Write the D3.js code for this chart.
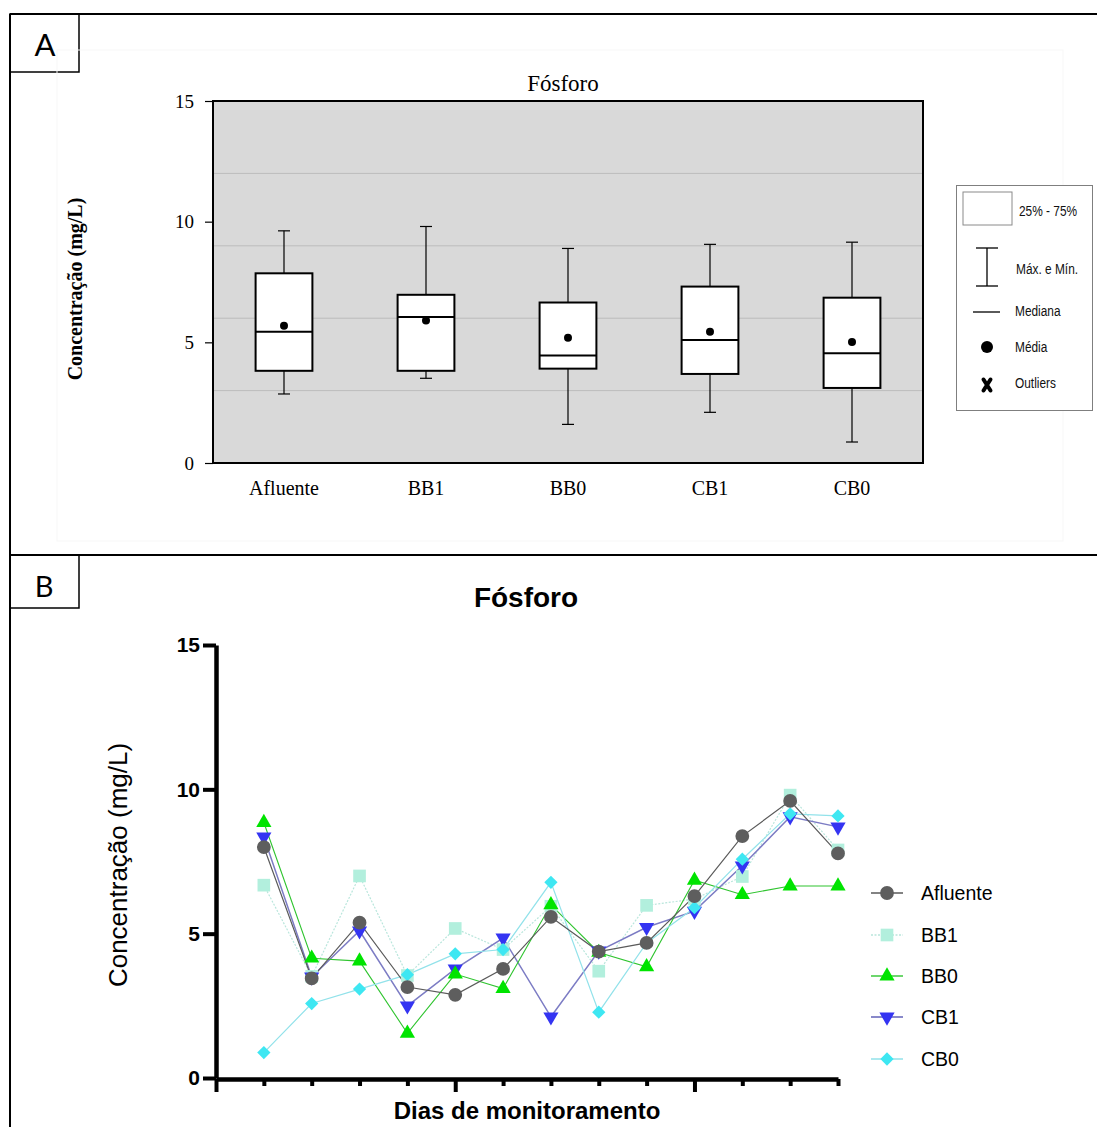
<!DOCTYPE html>
<html>
<head>
<meta charset="utf-8">
<script src="https://cdn.jsdelivr.net/npm/d3@7"></script>
<style>
  body { margin: 0; background: #fff; }
  svg { display: block; }
</style>
</head>
<body>
<svg id="fig" width="1097" height="1127"></svg>
<script>
// ---------- Panel A: box plot summary per treatment ----------
const categories = ["Afluente", "BB1", "BB0", "CB1", "CB0"];
const boxMax    = [9.62, 9.80, 8.89, 9.06, 9.15];
const boxQ3     = [7.86, 6.97, 6.65, 7.31, 6.85];
const boxMedian = [5.44, 6.05, 4.45, 5.10, 4.55];
const boxQ1     = [3.82, 3.82, 3.91, 3.69, 3.11];
const boxMin    = [2.86, 3.51, 1.60, 2.10, 0.87];
const boxMean   = [5.69, 5.90, 5.19, 5.44, 5.01];
const yTicks    = [0, 5, 10, 15];
const gridValues = [3, 6, 9, 12];
const legendA = ["25% - 75%", "Máx. e Mín.", "Mediana", "Média", "Outliers"];

// ---------- Panel B: phosphorus per monitoring day ----------
const days     = [1, 2, 3, 4, 5, 6, 7, 8, 9, 10, 11, 12, 13];
const xTickValues = [0, 1, 2, 3, 4, 5, 6, 7, 8, 9, 10, 11, 12, 13];
const xMajorTicks = [0, 5, 10];
const seriesNames = ["Afluente", "BB1", "BB0", "CB1", "CB0"];
const afluente = [8.00, 3.45, 5.38, 3.15, 2.88, 3.78, 5.58, 4.38, 4.68, 6.30, 8.38, 9.60, 7.78];
const bb1      = [6.68, 3.52, 7.00, 3.55, 5.18, 4.45, 5.95, 3.70, 5.98, 6.20, 6.98, 9.80, 7.90];
const bb0      = [8.85, 4.15, 4.05, 1.55, 3.60, 3.10, 6.00, 4.35, 3.85, 6.85, 6.35, 6.65, 6.65];
const cb1      = [8.35, 3.50, 5.10, 2.50, 3.78, 4.85, 2.12, 4.40, 5.22, 5.78, 7.35, 9.05, 8.70];
const cb0      = [0.88, 2.58, 3.08, 3.58, 4.30, 4.45, 6.78, 2.28, 4.68, 5.90, 7.58, 9.15, 9.08];

const svg = d3.select("#fig");
svg.append("rect").attr("width", 1097).attr("height", 1127).attr("fill", "#fff");

const SERIF = "'Liberation Serif', 'Times New Roman', serif";
const SANS = "'Liberation Sans', Arial, sans-serif";
const PANEL_FONT = "Lato, 'Open Sans', sans-serif";

// ---------- figure frame and panel tags ----------
const frame = svg.append("g").attr("stroke", "#000").attr("stroke-width", 2);
frame.append("line").attr("x1", 10).attr("x2", 1097).attr("y1", 14).attr("y2", 14);
frame.append("line").attr("x1", 10).attr("x2", 10).attr("y1", 14).attr("y2", 1127);
frame.append("line").attr("x1", 10).attr("x2", 1097).attr("y1", 555).attr("y2", 555);
frame.append("rect").attr("x", 10).attr("y", 14).attr("width", 69).attr("height", 58)
  .attr("fill", "none").attr("stroke-width", 1.5);
frame.append("rect").attr("x", 10).attr("y", 555).attr("width", 69).attr("height", 53)
  .attr("fill", "none").attr("stroke-width", 1.5);
svg.append("text").attr("x", 45).attr("y", 56).attr("text-anchor", "middle")
  .attr("font-family", PANEL_FONT).attr("font-size", 31).text("A");
svg.append("text").attr("x", 44).attr("y", 597).attr("text-anchor", "middle")
  .attr("font-family", PANEL_FONT).attr("font-size", 29).text("B");

// ================= Panel A =================
const gA = svg.append("g");
// faint sheet behind the chart
gA.append("rect").attr("x", 57).attr("y", 50).attr("width", 1006).attr("height", 491)
  .attr("fill", "none").attr("stroke", "#f7f7f7").attr("stroke-width", 1);

const xA = d3.scaleBand().domain(categories).range([213, 923]);
const yA = d3.scaleLinear().domain([0, 15]).range([463, 101]);

gA.append("rect").attr("x", 213).attr("y", 101).attr("width", 710).attr("height", 362)
  .attr("fill", "#d9d9d9");
gA.append("g").selectAll("line").data(gridValues).join("line")
  .attr("x1", 213).attr("x2", 923)
  .attr("y1", d => yA(d)).attr("y2", d => yA(d))
  .attr("stroke", "#bcbcbc").attr("stroke-width", 1);

gA.append("g").attr("transform", "translate(213,0)")
  .call(d3.axisLeft(yA).tickValues(yTicks).tickSize(8).tickSizeOuter(0).tickPadding(11))
  .call(g => g.select(".domain").remove())
  .call(g => g.selectAll(".tick line").attr("stroke", "#000").attr("stroke-width", 1.2))
  .call(g => g.selectAll(".tick text").attr("font-family", SERIF).attr("font-size", 19).attr("fill", "#000"));

gA.append("rect").attr("x", 213).attr("y", 101).attr("width", 710).attr("height", 362)
  .attr("fill", "none").attr("stroke", "#000").attr("stroke-width", 2);

gA.append("text").attr("x", 563).attr("y", 91).attr("text-anchor", "middle")
  .attr("font-family", SERIF).attr("font-size", 23).text("Fósforo");
gA.append("text").attr("transform", "translate(82,289) rotate(-90)").attr("text-anchor", "middle")
  .attr("font-family", SERIF).attr("font-weight", "bold").attr("font-size", 20)
  .text("Concentração (mg/L)");

gA.append("g").selectAll("text").data(categories).join("text")
  .attr("x", d => xA(d) + xA.bandwidth() / 2).attr("y", 495)
  .attr("text-anchor", "middle").attr("font-family", SERIF).attr("font-size", 20)
  .text(d => d);

const boxW = xA.bandwidth() * 0.4;
const capW = 12;
const boxes = gA.append("g").selectAll("g").data(categories).join("g")
  .attr("transform", d => `translate(${xA(d) + xA.bandwidth() / 2},0)`);
boxes.append("line").attr("x1", 0).attr("x2", 0)
  .attr("y1", (d, i) => yA(boxMax[i])).attr("y2", (d, i) => yA(boxQ3[i]))
  .attr("stroke", "#000").attr("stroke-width", 1.2);
boxes.append("line").attr("x1", 0).attr("x2", 0)
  .attr("y1", (d, i) => yA(boxQ1[i])).attr("y2", (d, i) => yA(boxMin[i]))
  .attr("stroke", "#000").attr("stroke-width", 1.2);
boxes.append("line").attr("x1", -capW / 2).attr("x2", capW / 2)
  .attr("y1", (d, i) => yA(boxMax[i])).attr("y2", (d, i) => yA(boxMax[i]))
  .attr("stroke", "#000").attr("stroke-width", 1.2);
boxes.append("line").attr("x1", -capW / 2).attr("x2", capW / 2)
  .attr("y1", (d, i) => yA(boxMin[i])).attr("y2", (d, i) => yA(boxMin[i]))
  .attr("stroke", "#000").attr("stroke-width", 1.2);
boxes.append("rect").attr("x", -boxW / 2).attr("width", boxW)
  .attr("y", (d, i) => yA(boxQ3[i])).attr("height", (d, i) => yA(boxQ1[i]) - yA(boxQ3[i]))
  .attr("fill", "#fff").attr("stroke", "#000").attr("stroke-width", 2);
boxes.append("line").attr("x1", -boxW / 2).attr("x2", boxW / 2)
  .attr("y1", (d, i) => yA(boxMedian[i])).attr("y2", (d, i) => yA(boxMedian[i]))
  .attr("stroke", "#000").attr("stroke-width", 2);
boxes.append("circle").attr("cx", 0).attr("cy", (d, i) => yA(boxMean[i])).attr("r", 4)
  .attr("fill", "#000");

// legend of box elements
const lgA = gA.append("g");
lgA.append("rect").attr("x", 956.5).attr("y", 185.5).attr("width", 136).attr("height", 225)
  .attr("fill", "#fff").attr("stroke", "#7f7f7f").attr("stroke-width", 1);
lgA.append("rect").attr("x", 963).attr("y", 192).attr("width", 49).attr("height", 33)
  .attr("fill", "#fff").attr("stroke", "#8a8a8a").attr("stroke-width", 1);
lgA.append("line").attr("x1", 987).attr("x2", 987).attr("y1", 248).attr("y2", 286)
  .attr("stroke", "#000").attr("stroke-width", 1.3);
lgA.append("line").attr("x1", 976).attr("x2", 998).attr("y1", 248).attr("y2", 248)
  .attr("stroke", "#000").attr("stroke-width", 1.3);
lgA.append("line").attr("x1", 976).attr("x2", 998).attr("y1", 286).attr("y2", 286)
  .attr("stroke", "#000").attr("stroke-width", 1.3);
lgA.append("line").attr("x1", 973).attr("x2", 1000).attr("y1", 312).attr("y2", 312)
  .attr("stroke", "#000").attr("stroke-width", 1.3);
lgA.append("circle").attr("cx", 987).attr("cy", 347).attr("r", 6).attr("fill", "#000");
lgA.append("path").attr("transform", "translate(987,385)")
  .attr("d", "M-3.5,-5.5L3.5,5.5M3.5,-5.5L-3.5,5.5").attr("stroke", "#000").attr("stroke-width", 4)
  .attr("stroke-linecap", "round");
const legendAY = [211, 269, 311, 347, 383];
const legendAX = [1019, 1016, 1015, 1015, 1015];
lgA.selectAll("text.lg").data(legendA).join("text").attr("class", "lg")
  .attr("transform", (d, i) => `translate(${legendAX[i]},${legendAY[i]}) scale(0.82,1)`)
  .attr("dy", "0.35em").attr("font-family", SANS).attr("font-size", 14.5).attr("fill", "#111")
  .text(d => d);

// ================= Panel B =================
const gB = svg.append("g");
const xB = d3.scaleLinear().domain([0, 13]).range([216, 838]);
const yB = d3.scaleLinear().domain([0, 15]).range([1078, 645]);

gB.append("text").attr("x", 526).attr("y", 607).attr("text-anchor", "middle")
  .attr("font-family", SANS).attr("font-weight", "bold").attr("font-size", 28).text("Fósforo");
gB.append("text").attr("transform", "translate(127,865) rotate(-90)").attr("text-anchor", "middle")
  .attr("font-family", SANS).attr("font-size", 26).text("Concentração (mg/L)");
gB.append("text").attr("x", 527).attr("y", 1119).attr("text-anchor", "middle")
  .attr("font-family", SANS).attr("font-weight", "bold").attr("font-size", 24)
  .text("Dias de monitoramento");

// series styles
const seriesValues = [afluente, bb1, bb0, cb1, cb0];
const styles = {
  "Afluente": { marker: "#5e5e5e", line: "#5a5a5a", lw: 1.2, dash: null, shape: "circle" },
  "BB1":      { marker: "#b2efdd", line: "#b9e6dc", lw: 1.2, dash: "2,1.5", shape: "square" },
  "BB0":      { marker: "#00e400", line: "#2fc42f", lw: 1.1, dash: null, shape: "up" },
  "CB1":      { marker: "#3434f2", line: "#7c7cc4", lw: 1.5, dash: null, shape: "down" },
  "CB0":      { marker: "#3ee7f2", line: "#92e2ea", lw: 1.2, dash: null, shape: "diamond" }
};
function markerPath(shape) {
  if (shape === "circle") return d3.symbol(d3.symbolCircle, 150)();
  if (shape === "square") return d3.symbol(d3.symbolSquare, 160)();
  if (shape === "up" || shape === "down") return d3.symbol(d3.symbolTriangle, 100)();
  return d3.symbol(d3.symbolSquare, 88)();
}
function markerRotate(shape) {
  if (shape === "down") return 180;
  if (shape === "diamond") return 45;
  return 0;
}

const series = seriesNames.map((name, i) => ({
  name, points: days.map((d, j) => ({ day: d, v: seriesValues[i][j] })), style: styles[name]
}));

const line = d3.line().x(d => xB(d.day)).y(d => yB(d.v));
const drawOrder = ["BB1", "CB1", "BB0", "CB0", "Afluente"];
const ordered = drawOrder.map(n => series.find(s => s.name === n));

gB.append("g").selectAll("path").data(ordered).join("path")
  .attr("d", s => line(s.points)).attr("fill", "none")
  .attr("stroke", s => s.style.line).attr("stroke-width", s => s.style.lw)
  .attr("stroke-dasharray", s => s.style.dash);

ordered.forEach(s => {
  gB.append("g").selectAll("path").data(s.points).join("path")
    .attr("d", markerPath(s.style.shape))
    .attr("transform", d => `translate(${xB(d.day)},${yB(d.v)}) rotate(${markerRotate(s.style.shape)})`)
    .attr("fill", s.style.marker);
});

// axes
gB.append("g").attr("transform", "translate(216,0)")
  .call(d3.axisLeft(yB).tickValues(yTicks).tickSize(13).tickSizeOuter(0).tickPadding(3))
  .call(g => g.select(".domain").attr("stroke", "#000").attr("stroke-width", 4.5))
  .call(g => g.selectAll(".tick line").attr("stroke", "#000").attr("stroke-width", 4))
  .call(g => g.selectAll(".tick text").attr("font-family", SANS).attr("font-weight", "bold")
    .attr("font-size", 21).attr("fill", "#000"));

gB.append("g").attr("transform", "translate(0,1079)")
  .call(d3.axisBottom(xB).tickValues(xTickValues).tickSize(7).tickSizeOuter(0).tickFormat(""))
  .call(g => g.select(".domain").attr("stroke", "#000").attr("stroke-width", 4.5))
  .call(g => g.selectAll(".tick line").attr("stroke", "#000").attr("stroke-width", 4)
    .attr("y2", d => xMajorTicks.includes(d) ? 13 : 7));

// legend
const lgB = gB.append("g");
const legendBY = [893, 935, 976, 1017, 1059];
series.forEach((s, i) => {
  const row = lgB.append("g").attr("transform", `translate(0,${legendBY[i]})`);
  row.append("line").attr("x1", 871).attr("x2", 903).attr("y1", 0).attr("y2", 0)
    .attr("stroke", s.style.line).attr("stroke-width", s.style.lw + 0.3)
    .attr("stroke-dasharray", s.style.dash);
  row.append("path").attr("d", markerPath(s.style.shape))
    .attr("transform", `translate(887,0) rotate(${markerRotate(s.style.shape)})`)
    .attr("fill", s.style.marker);
  row.append("text").attr("x", 921).attr("dy", "0.35em").attr("font-family", SANS)
    .attr("font-size", 19.5).attr("fill", "#000").text(s.name);
});
</script>
</body>
</html>
